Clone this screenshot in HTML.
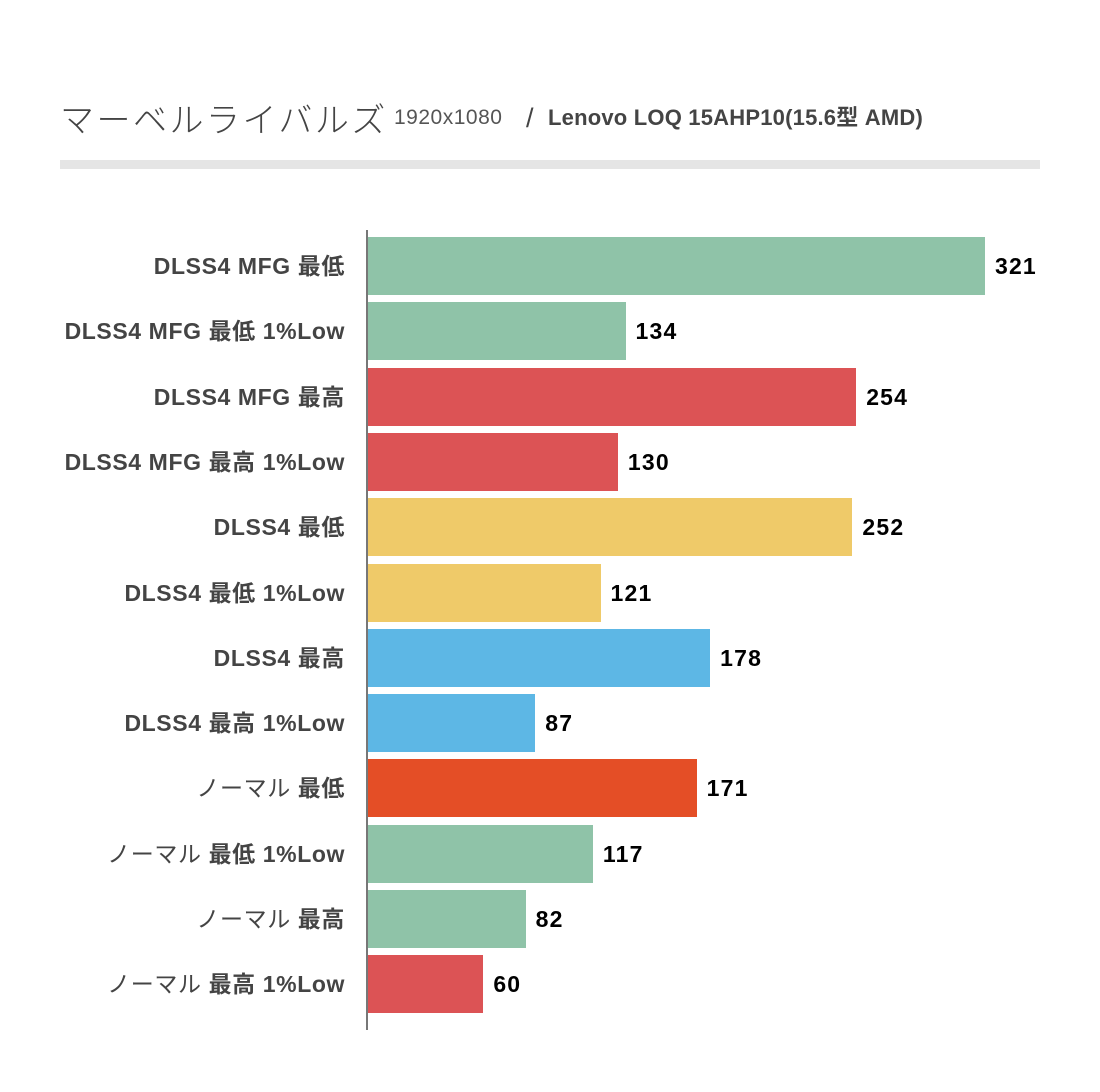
<!DOCTYPE html>
<html><head><meta charset="utf-8"><style>
body{margin:0;width:1100px;height:1092px;background:#fff;position:relative;overflow:hidden;font-family:"Liberation Sans","Noto Sans CJK JP",sans-serif}
.t{position:absolute;white-space:nowrap}
.bar{position:absolute;left:368px;height:58px}
.lab{position:absolute;right:755px;font-size:23px;font-weight:bold;color:#444;line-height:58px;white-space:nowrap;letter-spacing:0.6px}
.lab .n{font-weight:normal}
.val{position:absolute;font-size:23px;font-weight:bold;color:#000;line-height:58px;letter-spacing:1.2px}
</style></head><body>
<div class="t" style="left:60px;top:96px;font-size:34px;color:#444;line-height:44px;font-family:'Noto Sans CJK JP',sans-serif;font-weight:300;letter-spacing:2.5px">マーベルライバルズ</div>
<div class="t" style="left:394px;top:105px;font-size:21px;color:#555;line-height:26px;letter-spacing:0.5px">1920x1080</div>
<div class="t" style="left:526px;top:102px;font-size:27px;color:#444;line-height:32px">/</div>
<div class="t" style="left:548px;top:105px;font-size:22px;color:#444;font-weight:bold;line-height:26px;letter-spacing:0.2px">Lenovo LOQ 15AHP10(15.6型 AMD)</div>
<div style="position:absolute;left:60px;top:160px;width:980px;height:9px;background:#e5e5e5"></div>
<div style="position:absolute;left:366px;top:230px;width:2px;height:800px;background:#777"></div>
<div id="c"></div>
<script>
var d=[["DLSS4 MFG 最低",321,"#8fc3a8"],["DLSS4 MFG 最低 1%Low",134,"#8fc3a8"],["DLSS4 MFG 最高",254,"#dc5355"],["DLSS4 MFG 最高 1%Low",130,"#dc5355"],["DLSS4 最低",252,"#efca69"],["DLSS4 最低 1%Low",121,"#efca69"],["DLSS4 最高",178,"#5db7e5"],["DLSS4 最高 1%Low",87,"#5db7e5"],["ノーマル 最低",171,"#e44e26"],["ノーマル 最低 1%Low",117,"#8fc3a8"],["ノーマル 最高",82,"#8fc3a8"],["ノーマル 最高 1%Low",60,"#dc5355"]];
var h="";
d.forEach(function(r,i){var y=237+i*65.3;var w=r[1]*1.922;
var t=r[0].replace("ノーマル",'<span class="n">ノーマル</span>');
h+='<div class="lab" style="top:'+y+'px;">'+t+'</div>';
h+='<div class="bar" style="top:'+y+'px;width:'+w+'px;background:'+r[2]+'"></div>';
h+='<div class="val" style="top:'+y+'px;left:'+(368+w+10)+'px">'+r[1]+'</div>';});
document.getElementById("c").innerHTML=h;
</script>
</body></html>
